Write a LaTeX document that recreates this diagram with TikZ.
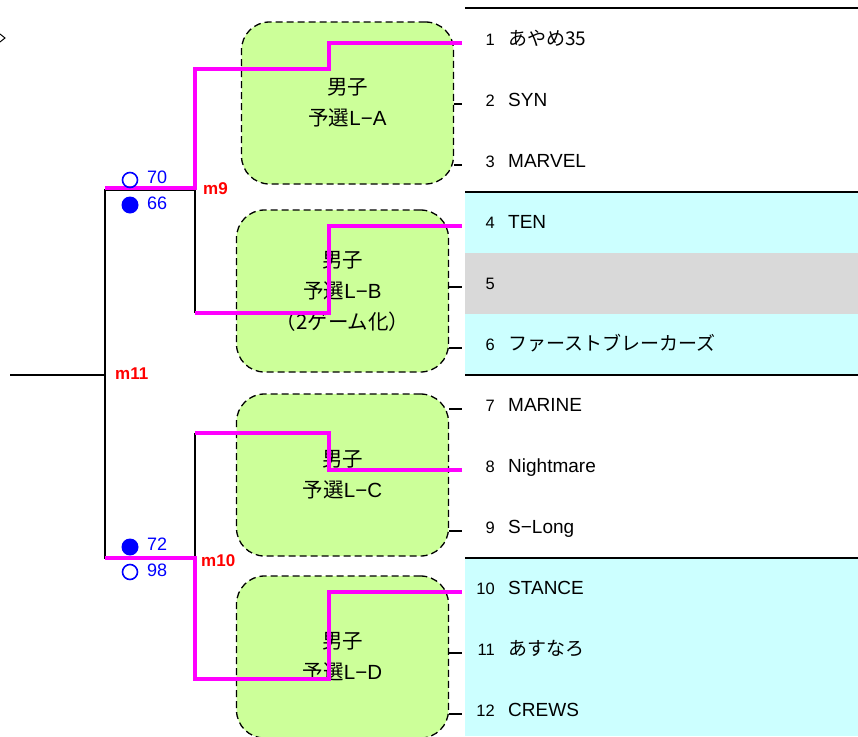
\documentclass[tikz,border=0pt]{standalone}
\usepackage{fontspec}
\setmainfont{Liberation Sans}
\newfontfamily\jp{Noto Sans CJK JP}
\usepackage{tikz}
\usetikzlibrary{positioning,calc}
\definecolor{poolgreen}{RGB}{204,255,153}
\definecolor{seedcyan}{RGB}{204,255,255}
\definecolor{byegray}{RGB}{217,217,217}
\definecolor{winmagenta}{RGB}{255,0,255}
\definecolor{scoreblue}{RGB}{0,0,255}
\definecolor{matchred}{RGB}{255,0,0}

\begin{document}
\begin{tikzpicture}[x=1pt, y=-1pt,
    pool/.style={draw, dashed, dash pattern=on 7pt off 4pt, line width=1.3pt, fill=poolgreen,
        rounded corners=28pt, minimum width=212pt, minimum height=162pt, inner sep=0pt,
        align=center, font=\fontsize{20.5}{31}\selectfont},
    seed/.style={anchor=mid east, inner sep=0pt, font=\fontsize{16.5}{16.5}\selectfont},
    team/.style={anchor=mid west, inner sep=0pt, font=\fontsize{19}{19}\selectfont},
    rule/.style={line width=2pt},
    tick/.style={line width=1.2pt},
    lose/.style={line width=1.3pt},
    win/.style={line width=4pt, winmagenta},
    score/.style={anchor=mid west, inner sep=0pt, text=scoreblue, font=\fontsize{18}{18}\selectfont},
    ring/.style={draw=scoreblue, line width=1.6pt},
    dot/.style={fill=scoreblue},
    match/.style={anchor=mid west, inner sep=0pt, text=matchred, font=\bfseries\fontsize{17}{17}\selectfont},
]
    \useasboundingbox (0,0) rectangle (858,736);
    % bands of the draw table
    \fill[seedcyan] (465,192) rectangle (858,375);
    \fill[byegray] (465,253) rectangle (858,314);
    \fill[seedcyan] (465,558) rectangle (858,736);
    \foreach \ly in {8,192,375,558} {
        \draw[rule] (465,\ly) -- (858,\ly);
    }
    \draw[line width=1pt] (0,34) -- (5,38) -- (0,42);
    % teams
    \foreach \i/\name in {1/{\jp あやめ35},2/SYN,3/MARVEL,4/TEN,5/{},6/{\jp ファーストブレーカーズ},
        7/MARINE,8/Nightmare,9/S−Long,10/STANCE,11/{\jp あすなろ},12/CREWS} {
        \pgfmathsetmacro{\ry}{40+(\i-1)*61}
        \node[seed] (n\i) at (495,\ry+3) {\i};
        \node[team] (t\i) at (508,\ry+3) {\name};
        \coordinate (p\i) at (462,\ry+3);
    }
    % qualifying pools
    \node[pool] (bA) at (347.5,103) {{\jp 男子}\\{\jp 予選}L−A};
    \node[pool] (bB) at (342.5,291) {{\jp 男子}\\{\jp 予選}L−B\\{\jp （2ゲーム化）}};
    \node[pool] (bC) at (342.5,475) {{\jp 男子}\\{\jp 予選}L−C};
    \node[pool] (bD) at (342.5,657) {{\jp 男子}\\{\jp 予選}L−D};
    \foreach \i/\b in {2/bA,3/bA,5/bB,6/bB,7/bC,9/bC,11/bD,12/bD} {
        \draw[tick] (\b.east |- p\i) -- (p\i);
    }
    % bracket
    \coordinate (a9) at (195,69);
    \coordinate (o9) at (195,190);
    \coordinate (b9) at (195,313);
    \coordinate (a10) at (195,433);
    \coordinate (o10) at (195,558);
    \coordinate (b10) at (195,679);
    \coordinate (a11) at (105,190);
    \coordinate (o11) at (105,375);
    \coordinate (b11) at (105,558);
    \coordinate (l11) at (10,375);
    \draw[lose] (a9) -- (b9);
    \draw[lose] (a10) -- (b10);
    \draw[lose] (o9) -- (a11) -- (b11) -- (o10);
    \draw[lose] (o11) -- (l11);
    \draw[win] (p1) -| ($(p1)!.5!(a9)$) |- (a9) -- ($(o9)+(0,-2)$) -- ($(a11)+(0,-2)$);
    \draw[win] (p4) -| ($(p4)!.5!(b9)$) |- (b9);
    \draw[win] (p8) -| ($(p8)!.5!(a10)$) |- (a10);
    \draw[win] (p10) -| ($(p10)!.5!(b10)$) |- (b10) -- (o10) -- (b11);
    % scores
    \draw[ring] (130,180) circle (7.5);
    \node[score] (s70) at (147,181) {70};
    \fill[dot] (130,205) circle (8.5);
    \node[score] (s66) at (147,207) {66};
    \fill[dot] (130,547) circle (8.5);
    \node[score] (s72) at (147,548) {72};
    \draw[ring] (130,572) circle (7.5);
    \node[score] (s98) at (147,574) {98};
    \node[match] (m9) at (203,192) {m9};
    \node[match] (m10) at (201,564) {m10};
    \node[match] (m11) at (115,377) {m11};
\end{tikzpicture}
\end{document}
